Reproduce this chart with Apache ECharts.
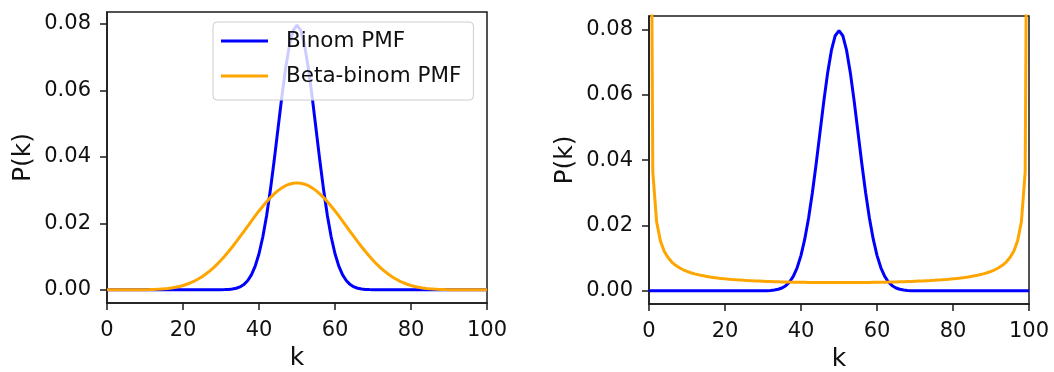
<!DOCTYPE html>
<html>
<head>
<meta charset="utf-8">
<script src="https://cdn.jsdelivr.net/npm/echarts@6/dist/echarts.min.js"></script>
<style>
html,body{margin:0;padding:0;background:#fff;}
#c{width:1054px;height:372px;}
</style>
</head>
<body>
<div id="c"></div>
<script>
const kValues = [0,1,2,3,4,5,6,7,8,9,10,11,12,13,14,15,16,17,18,19,20,21,22,23,24,25,26,27,28,29,30,31,32,33,34,35,36,37,38,39,40,41,42,43,44,45,46,47,48,49,50,51,52,53,54,55,56,57,58,59,60,61,62,63,64,65,66,67,68,69,70,71,72,73,74,75,76,77,78,79,80,81,82,83,84,85,86,87,88,89,90,91,92,93,94,95,96,97,98,99,100];

const binomPMF = [0,0,0,0,0,0,0,0,0,0,0,0,0,0,0,0,0,0,0,0,0,0,0,0,0,0,0,0,0,
  0.00001,0.00002,0.00005,0.00011,0.00023,0.00046,0.00086,0.00156,0.0027,0.00447,0.00711,
  0.01084,0.01587,0.02229,0.03007,0.03895,0.04847,0.05796,0.06659,0.07353,0.07803,0.07959,
  0.07803,0.07353,0.06659,0.05796,0.04847,0.03895,0.03007,0.02229,0.01587,0.01084,
  0.00711,0.00447,0.0027,0.00156,0.00086,0.00046,0.00023,0.00011,0.00005,0.00002,0.00001,
  0,0,0,0,0,0,0,0,0,0,0,0,0,0,0,0,0,0,0,0,0,0,0,0,0,0,0,0,0];

const betaBinomLeft = [0,0,0,0,0,0,0,
  0.00001,0.00001,0.00002,0.00003,0.00005,0.00009,0.00013,0.0002,0.00028,0.0004,0.00055,0.00075,0.00099,
  0.0013,0.00166,0.00211,0.00263,0.00323,0.00393,0.00473,0.00562,0.00661,0.0077,
  0.00888,0.01016,0.01151,0.01294,0.01442,0.01596,0.01752,0.0191,0.02067,0.02221,
  0.02371,0.02514,0.02649,0.02773,0.02885,0.02983,0.03065,0.0313,0.03177,0.03206,0.03216,
  0.03206,0.03177,0.0313,0.03065,0.02983,0.02885,0.02773,0.02649,0.02514,0.02371,
  0.02221,0.02067,0.0191,0.01752,0.01596,0.01442,0.01294,0.01151,0.01016,0.00888,
  0.0077,0.00661,0.00562,0.00473,0.00393,0.00323,0.00263,0.00211,0.00166,0.0013,
  0.00099,0.00075,0.00055,0.0004,0.00028,0.0002,0.00013,0.00009,0.00005,0.00003,0.00002,0.00001,0.00001,
  0,0,0,0,0,0,0];

const betaBinomRight = [0.241,0.0364,0.0211,0.01527,0.01213,0.01016,0.0088,0.0078,0.00704,0.00643,
  0.00594,0.00553,0.00519,0.0049,0.00465,0.00443,0.00424,0.00407,0.00392,0.00378,
  0.00366,0.00355,0.00345,0.00336,0.00328,0.0032,0.00313,0.00307,0.00301,0.00296,
  0.00291,0.00286,0.00282,0.00278,0.00275,0.00272,0.00269,0.00266,0.00264,0.00262,
  0.0026,0.00258,0.00256,0.00255,0.00254,0.00253,0.00252,0.00251,0.00251,0.0025,0.0025,
  0.0025,0.00251,0.00251,0.00252,0.00253,0.00254,0.00255,0.00256,0.00258,0.0026,
  0.00262,0.00264,0.00266,0.00269,0.00272,0.00275,0.00278,0.00282,0.00286,0.00291,
  0.00296,0.00301,0.00307,0.00313,0.0032,0.00328,0.00336,0.00345,0.00355,0.00366,
  0.00378,0.00392,0.00407,0.00424,0.00443,0.00465,0.0049,0.00519,0.00553,0.00594,
  0.00643,0.00704,0.0078,0.0088,0.01016,0.01213,0.01527,0.0211,0.0364,0.241];

const xTicks = [0, 20, 40, 60, 80, 100];
const yTicks = [0, 0.02, 0.04, 0.06, 0.08];
const seriesNames = ['Binom PMF', 'Beta-binom PMF'];
const xLabel = 'k';
const yLabel = 'P(k)';

const FONT = 'DejaVu Sans';
const TXT = '#111111';
const BLUE = '#0000ff';
const ORANGE = '#ffa500';
const pairs = (vals) => kValues.map((k, i) => [k, vals[i]]);

function xAxisFor(gridIndex) {
  return {
    gridIndex, type: 'value', min: 0, max: 100, interval: 20,
    name: xLabel, nameLocation: 'middle', nameGap: 42,
    nameTextStyle: { fontFamily: FONT, fontSize: 25, color: TXT },
    axisLine: { show: true, onZero: false, lineStyle: { color: '#1a1a1a', width: 1.5 } },
    axisTick: { show: true, length: 7, inside: false, customValues: xTicks, lineStyle: { color: '#1a1a1a', width: 1.5 } },
    axisLabel: { fontFamily: FONT, fontSize: 21, color: TXT, margin: 17, customValues: xTicks },
    splitLine: { show: false }
  };
}
function yAxisFor(gridIndex, min, max) {
  return {
    gridIndex, type: 'value', min, max,
    name: yLabel, nameLocation: 'middle', nameGap: 71,
    nameTextStyle: { fontFamily: FONT, fontSize: 25, color: TXT },
    axisLine: { show: true, onZero: false, lineStyle: { color: '#1a1a1a', width: 1.5 } },
    axisTick: { show: true, length: 7, inside: false, customValues: yTicks, lineStyle: { color: '#1a1a1a', width: 1.5 } },
    axisLabel: { fontFamily: FONT, fontSize: 21, color: TXT, margin: 16, customValues: yTicks,
      formatter: (v) => Number(v).toFixed(2) },
    splitLine: { show: false }
  };
}

const chart = echarts.init(document.getElementById('c'), null, { renderer: 'canvas' });
chart.setOption({
  animation: false,
  backgroundColor: '#ffffff',
  grid: [
    { left: 107, top: 12, width: 380, height: 291, outerBoundsMode: 'none', containLabel: false, show: true, borderColor: '#1a1a1a', borderWidth: 1.5, backgroundColor: 'transparent' },
    { left: 649, top: 16, width: 380, height: 288, outerBoundsMode: 'none', containLabel: false, show: true, borderColor: '#1a1a1a', borderWidth: 1.5, backgroundColor: 'transparent' }
  ],
  xAxis: [xAxisFor(0), xAxisFor(1)],
  yAxis: [yAxisFor(0, -0.00398, 0.08357), yAxisFor(1, -0.00404, 0.08407)],
  legend: {
    orient: 'vertical', left: 213, top: 22,
    data: seriesNames,
    icon: 'rect', itemWidth: 47, itemHeight: 3, itemGap: 13,
    padding: [8, 12, 13, 8],
    backgroundColor: 'rgba(255,255,255,0.8)', borderColor: '#cccccc', borderWidth: 1, borderRadius: 4,
    textStyle: { fontFamily: FONT, fontSize: 21.5, color: TXT, lineHeight: 22, padding: [0, 0, 0, 13] },
    selectedMode: false
  },
  series: [
    { name: seriesNames[0], type: 'line', xAxisIndex: 0, yAxisIndex: 0, data: pairs(binomPMF), showSymbol: false, symbol: 'none', color: BLUE, lineStyle: { color: BLUE, width: 3 }, clip: true },
    { name: seriesNames[1], type: 'line', xAxisIndex: 0, yAxisIndex: 0, data: pairs(betaBinomLeft), showSymbol: false, symbol: 'none', color: ORANGE, lineStyle: { color: ORANGE, width: 3 }, clip: true },
    { name: seriesNames[0], type: 'line', xAxisIndex: 1, yAxisIndex: 1, data: pairs(binomPMF), showSymbol: false, symbol: 'none', color: BLUE, lineStyle: { color: BLUE, width: 3 }, clip: true },
    { name: seriesNames[1], type: 'line', xAxisIndex: 1, yAxisIndex: 1, data: pairs(betaBinomRight), showSymbol: false, symbol: 'none', color: ORANGE, lineStyle: { color: ORANGE, width: 3 }, clip: true }
  ]
});
</script>
</body>
</html>
